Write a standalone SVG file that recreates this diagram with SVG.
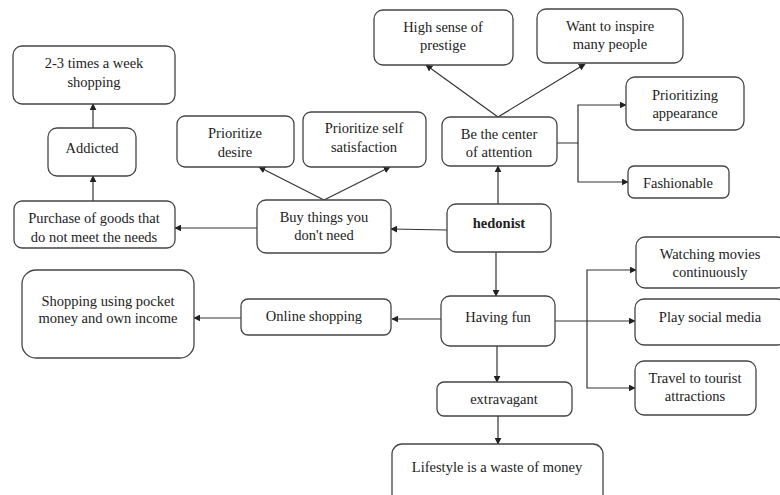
<svg xmlns="http://www.w3.org/2000/svg" width="780" height="495" viewBox="0 0 780 495">
<style>
.b{fill:#fff;stroke:#444;stroke-width:1.3}
.t{font-family:'Liberation Serif','DejaVu Serif','Times New Roman',serif;font-size:14.5px;fill:#222;text-anchor:middle}
.c{fill:none;stroke:#333;stroke-width:1.2}
</style>
<defs>
<marker id="a" viewBox="0 0 10 10" refX="9" refY="5" markerWidth="7" markerHeight="7" orient="auto" markerUnits="userSpaceOnUse">
<path d="M0,0 L10,5 L0,10 z" fill="#222"/>
</marker>
</defs>
<rect width="780" height="495" fill="#fff"/>
<g id="connectors" class="c" marker-end="url(#a)">
<path d="M93,128 V104"/>
<path d="M93,201 V176"/>
<path d="M257,228 H175"/>
<path d="M324,200 L259,167"/>
<path d="M324,200 L390,167"/>
<path d="M447,230 L391,229"/>
<path d="M498,117 L426,65"/>
<path d="M498,117 L585,64"/>
<path d="M498,204 V166"/>
<path d="M557,143 H578 V105 H626" />
<path d="M578,143 V182 H628" />
<path d="M496,252 V296"/>
<path d="M441,319 H392"/>
<path d="M241,318 H194"/>
<path d="M555,321 H587 V270 H636"/>
<path d="M587,321 H635"/>
<path d="M587,321 V388 H635"/>
<path d="M497,346 V382"/>
<path d="M498,416 V444"/>
</g>
<g id="n-shop23"><rect class="b" x="13" y="46" width="162" height="58" rx="9"/><text class="t" x="94" y="68">2-3 times a week</text><text class="t" x="94" y="87">shopping</text></g>
<g id="n-addicted"><rect class="b" x="48" y="128" width="88" height="48" rx="9"/><text class="t" x="92" y="153">Addicted</text></g>
<g id="n-purchase"><rect class="b" x="14" y="201" width="161" height="47" rx="8"/><text class="t" x="94" y="223">Purchase of goods that</text><text class="t" x="94" y="242">do not meet the needs</text></g>
<g id="n-desire"><rect class="b" x="177" y="116" width="117" height="51" rx="8"/><text class="t" x="235" y="138">Prioritize</text><text class="t" x="235" y="157">desire</text></g>
<g id="n-self"><rect class="b" x="303" y="112" width="123" height="55" rx="8"/><text class="t" x="364" y="133">Prioritize self</text><text class="t" x="364" y="152">satisfaction</text></g>
<g id="n-buy"><rect class="b" x="257" y="200" width="134" height="53" rx="9"/><text class="t" x="324" y="222">Buy things you</text><text class="t" x="324" y="240">don't need</text></g>
<g id="n-prestige"><rect class="b" x="374" y="10" width="139" height="55" rx="9"/><text class="t" x="443" y="32">High sense of</text><text class="t" x="443" y="50">prestige</text></g>
<g id="n-inspire"><rect class="b" x="537" y="9" width="146" height="54" rx="9"/><text class="t" x="610" y="31">Want to inspire</text><text class="t" x="610" y="49">many people</text></g>
<g id="n-center"><rect class="b" x="442" y="117" width="115" height="49" rx="8"/><text class="t" x="499" y="139">Be the center</text><text class="t" x="499" y="157">of attention</text></g>
<g id="n-appearance"><rect class="b" x="626" y="77" width="118" height="53" rx="9"/><text class="t" x="685" y="100">Prioritizing</text><text class="t" x="685" y="118">appearance</text></g>
<g id="n-fashion"><rect class="b" x="628" y="166" width="101" height="32" rx="6"/><text class="t" x="678" y="188">Fashionable</text></g>
<g id="n-hedonist"><rect class="b" x="447" y="204" width="104" height="48" rx="9"/><text class="t" x="499" y="228" font-weight="bold">hedonist</text></g>
<g id="n-fun"><rect class="b" x="441" y="296" width="114" height="50" rx="9"/><text class="t" x="498" y="322">Having fun</text></g>
<g id="n-online"><rect class="b" x="241" y="299" width="150" height="36" rx="7"/><text class="t" x="314" y="321">Online shopping</text></g>
<g id="n-pocket"><rect class="b" x="22" y="270" width="172" height="88" rx="14"/><text class="t" x="108" y="306">Shopping using pocket</text><text class="t" x="108" y="323">money and own income</text></g>
<g id="n-movies"><rect class="b" x="636" y="237" width="150" height="51" rx="9"/><text class="t" x="710" y="259">Watching movies</text><text class="t" x="710" y="277">continuously</text></g>
<g id="n-social"><rect class="b" x="635" y="299" width="151" height="46" rx="9"/><text class="t" x="710" y="322">Play social media</text></g>
<g id="n-travel"><rect class="b" x="635" y="361" width="121" height="54" rx="9"/><text class="t" x="695" y="383">Travel to tourist</text><text class="t" x="695" y="401">attractions</text></g>
<g id="n-extravagant"><rect class="b" x="437" y="382" width="135" height="34" rx="7"/><text class="t" x="504" y="404">extravagant</text></g>
<g id="n-lifestyle"><rect class="b" x="392" y="444" width="211" height="60" rx="10"/><text class="t" x="497" y="472">Lifestyle is a waste of money</text></g>
</svg>
